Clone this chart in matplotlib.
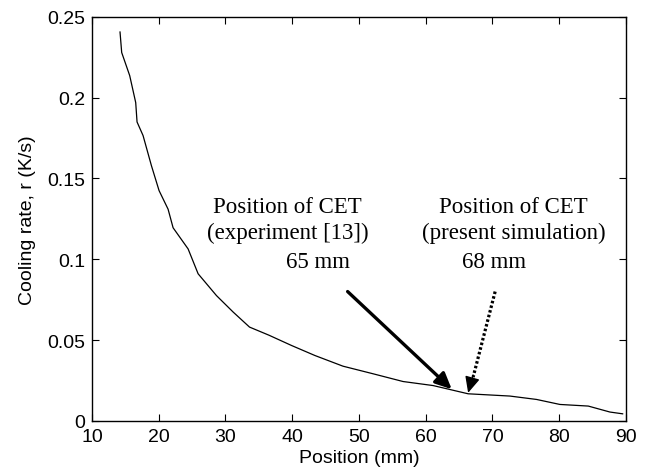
import matplotlib
matplotlib.use('Agg')
import matplotlib.pyplot as plt

# cooling rate along the casting
position = [14.2, 14.45, 15.65, 16.55, 16.75, 17.65, 18.9, 20.05, 21.4, 22.15,
            24.4, 25.9, 28.65, 31.15, 33.6, 36.5, 39.9, 43.4, 47.6, 52.1,
            56.6, 61.1, 66.35, 72.6, 76.6, 80.1, 84.35, 87.6, 89.5]
rate = [0.2407, 0.228, 0.2137, 0.197, 0.185, 0.1766, 0.158, 0.1425, 0.131, 0.1195,
        0.1064, 0.091, 0.0775, 0.0673, 0.058, 0.053, 0.0466, 0.0404, 0.0338, 0.0291,
        0.0243, 0.0218, 0.0167, 0.0153, 0.0132, 0.0101, 0.0091, 0.0054, 0.0043]

xticks = [10, 20, 30, 40, 50, 60, 70, 80, 90]
yticks = [0, 0.05, 0.1, 0.15, 0.2, 0.25]
ytick_labels = ['0', '0.05', '0.1', '0.15', '0.2', '0.25']

exp_lines = ['Position of CET', '(experiment [13])', '65 mm']
sim_lines = ['Position of CET', '(present simulation)', '68 mm']

plt.rcParams['font.family'] = ['Liberation Sans', 'DejaVu Sans']

fig = plt.figure(figsize=(6.46, 4.77), dpi=100)
ax = fig.add_axes([0.1424, 0.1158, 0.9690 - 0.1424, 0.9623 - 0.1158])

ax.plot(position, rate, color='black', lw=0.9)

ax.set_xlim(10, 90)
ax.set_ylim(0, 0.25)
ax.set_xticks(xticks)
ax.set_yticks(yticks)
ax.set_yticklabels(ytick_labels)
ax.tick_params(direction='in', top=True, right=True, length=5, width=0.8,
               labelsize=14, pad=5)
for s in ax.spines.values():
    s.set_linewidth(1.0)

ax.set_xlabel('Position (mm)', fontsize=14, labelpad=3)
ax.set_ylabel('Cooling rate, r (K/s)', fontsize=14, labelpad=8)

serif = dict(family='Liberation Serif', fontsize=16.5, ha='center', va='center')
# left annotation text
ax.text(39.2, 0.1329, exp_lines[0], **serif)
ax.text(39.3, 0.1168, exp_lines[1], **serif)
ax.text(43.8, 0.0988, exp_lines[2], **serif)
# right annotation text
ax.text(73.1, 0.1329, sim_lines[0], **serif)
ax.text(73.2, 0.1168, sim_lines[1], **serif)
ax.text(70.2, 0.0988, sim_lines[2], **serif)

head = '-|>,head_length=0.75,head_width=0.35'

# solid arrow (experiment)
ax.annotate('', xy=(63.9, 0.0195), xytext=(48.3, 0.080),
            arrowprops=dict(arrowstyle=head, lw=2.4, color='black',
                            shrinkA=0, shrinkB=0, mutation_scale=13))
# dotted arrow (simulation): dotted shaft plus solid head
ax.plot([70.4, 67.1], [0.080, 0.027], color='black', lw=2.3,
        ls=(0, (0.8, 0.7)), dash_capstyle='butt')
ax.annotate('', xy=(66.35, 0.0173), xytext=(67.1, 0.0283),
            arrowprops=dict(arrowstyle=head, lw=1.0, color='black',
                            shrinkA=0, shrinkB=0, mutation_scale=13))

fig.savefig('out.png', dpi=100)
